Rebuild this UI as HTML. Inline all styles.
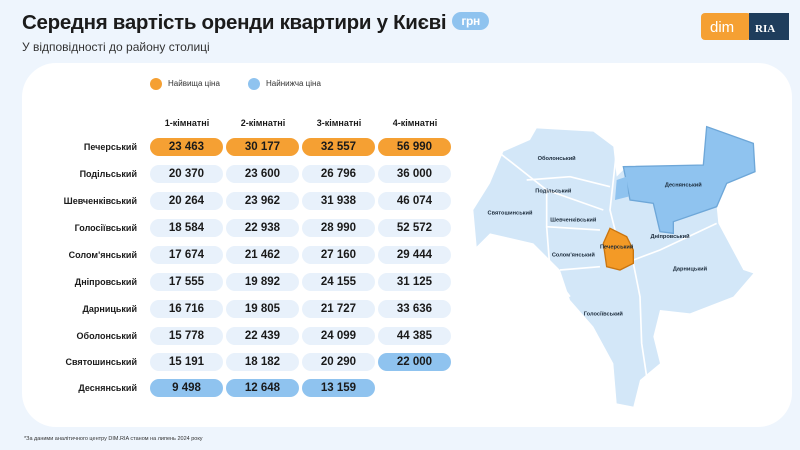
<!DOCTYPE html>
<html><head><meta charset="utf-8"><style>
*{margin:0;padding:0;box-sizing:border-box}
body{width:800px;height:450px;background:#eef5fd;font-family:"Liberation Sans","DejaVu Sans",sans-serif;position:relative;overflow:hidden;color:#1a1a1a}
.t{position:absolute;left:22px;top:11px;font-size:20.5px;font-weight:bold;color:#1b1b1b;letter-spacing:-0.3px}
.grn{display:inline-block;background:#8fc3ef;color:#fff;font-size:12px;border-radius:10px;padding:2px 9px;vertical-align:4px;margin-left:6px;font-weight:bold}
.sub{position:absolute;left:22px;top:40px;font-size:12px;color:#333}
.logo{position:absolute;left:701px;top:13px;width:88px;height:27px}
.card{position:absolute;left:22px;top:63px;width:770px;height:364px;background:#fff;border-radius:34px}
.leg{position:absolute;top:79px;font-size:8px;color:#333}
.dot{position:absolute;width:12px;height:12px;border-radius:50%;top:78px}
.hdr{position:absolute;top:118px;font-size:9px;font-weight:bold;width:74px;text-align:center}
.lab{position:absolute;left:20px;width:117px;text-align:right;font-size:9px;font-weight:bold}
.p{position:absolute;width:73px;height:18px;border-radius:9px;background:#e8f1fb;font-size:11.5px;font-weight:bold;text-align:center;line-height:18px}
.o{background:#f5a033}.b{background:#8fc3ef}
.fn{position:absolute;left:24px;top:436px;font-size:5.5px;color:#333}
</style></head><body>
<div class="t">Середня вартість оренди квартири у Києві<span class="grn">грн</span></div>
<div class="sub">У відповідності до району столиці</div>
<svg class="logo" viewBox="0 0 88 27"><rect x="0" y="0" width="50" height="27" rx="4" fill="#f5a033"/><rect x="48" y="0" width="40" height="27" fill="#1f3d5c"/><text x="9" y="19" font-size="15" fill="#fff" font-family="Liberation Sans">dim</text><text x="54" y="19" font-size="11" fill="#fff" font-weight="bold" font-family="Liberation Serif">RIA</text></svg>
<div class="card"></div>
<div class="dot" style="left:150px;background:#f5a033"></div><div class="leg" style="left:168px">Найвища ціна</div>
<div class="dot" style="left:248px;background:#8fc3ef"></div><div class="leg" style="left:266px">Найнижча ціна</div>
<div class="hdr" style="left:150px">1-кімнатні</div><div class="hdr" style="left:226px">2-кімнатні</div><div class="hdr" style="left:302px">3-кімнатні</div><div class="hdr" style="left:378px">4-кімнатні</div>
<div style="position:absolute;left:0;top:0">
<div class="lab" style="top:142px">Печерський</div><div class="p o" style="left:150px;top:138px">23 463</div><div class="p o" style="left:226px;top:138px">30 177</div><div class="p o" style="left:302px;top:138px">32 557</div><div class="p o" style="left:378px;top:138px">56 990</div>
<div class="lab" style="top:169px">Подільський</div><div class="p" style="left:150px;top:165px">20 370</div><div class="p" style="left:226px;top:165px">23 600</div><div class="p" style="left:302px;top:165px">26 796</div><div class="p" style="left:378px;top:165px">36 000</div>
<div class="lab" style="top:196px">Шевченківський</div><div class="p" style="left:150px;top:192px">20 264</div><div class="p" style="left:226px;top:192px">23 962</div><div class="p" style="left:302px;top:192px">31 938</div><div class="p" style="left:378px;top:192px">46 074</div>
<div class="lab" style="top:223px">Голосіївський</div><div class="p" style="left:150px;top:219px">18 584</div><div class="p" style="left:226px;top:219px">22 938</div><div class="p" style="left:302px;top:219px">28 990</div><div class="p" style="left:378px;top:219px">52 572</div>
<div class="lab" style="top:250px">Солом'янський</div><div class="p" style="left:150px;top:246px">17 674</div><div class="p" style="left:226px;top:246px">21 462</div><div class="p" style="left:302px;top:246px">27 160</div><div class="p" style="left:378px;top:246px">29 444</div>
<div class="lab" style="top:277px">Дніпровський</div><div class="p" style="left:150px;top:273px">17 555</div><div class="p" style="left:226px;top:273px">19 892</div><div class="p" style="left:302px;top:273px">24 155</div><div class="p" style="left:378px;top:273px">31 125</div>
<div class="lab" style="top:304px">Дарницький</div><div class="p" style="left:150px;top:300px">16 716</div><div class="p" style="left:226px;top:300px">19 805</div><div class="p" style="left:302px;top:300px">21 727</div><div class="p" style="left:378px;top:300px">33 636</div>
<div class="lab" style="top:331px">Оболонський</div><div class="p" style="left:150px;top:327px">15 778</div><div class="p" style="left:226px;top:327px">22 439</div><div class="p" style="left:302px;top:327px">24 099</div><div class="p" style="left:378px;top:327px">44 385</div>
<div class="lab" style="top:357px">Святошинський</div><div class="p" style="left:150px;top:353px">15 191</div><div class="p" style="left:226px;top:353px">18 182</div><div class="p" style="left:302px;top:353px">20 290</div><div class="p b" style="left:378px;top:353px">22 000</div>
<div class="lab" style="top:383px">Деснянський</div><div class="p b" style="left:150px;top:379px">9 498</div><div class="p b" style="left:226px;top:379px">12 648</div><div class="p b" style="left:302px;top:379px">13 159</div>
</div>
<svg style="position:absolute;left:460px;top:110px" width="340" height="310" viewBox="0 0 1020 930">
<path d="M130,125 L210,90 L230,55 L400,65 L460,110 L470,200 L500,170 L730,170 L740,50 L880,100 L885,185 L800,220 L770,290 L775,340 L850,480 L880,490 L820,560 L690,610 L600,600 L580,680 L600,760 L540,810 L520,890 L470,880 L460,760 L400,650 L330,570 L300,480 L220,400 L90,370 L50,410 L40,300 L90,220 Z" fill="#d3e7f8"/>
<g stroke="#fff" stroke-width="5" fill="none">
<path d="M470,120 L450,300 L470,380 L520,460 L540,560 L545,700 L560,800"/>
<path d="M120,130 L260,240 L430,300"/><path d="M200,210 L330,200 L450,230"/><path d="M260,240 L260,350 L420,360"/><path d="M260,350 L270,480 L330,560"/><path d="M520,450 L600,420 L770,340"/><path d="M300,480 L420,470"/>
</g>
<path d="M490,170 L730,165 L740,50 L880,100 L885,185 L800,220 L770,290 L640,335 L640,370 L600,365 L580,280 L510,270 Z" fill="#8fc3ef" stroke="#6ea7d8" stroke-width="4"/>
<path d="M470,210 L500,200 L505,260 L465,270 Z" fill="#8fc3ef"/>
<path d="M450,355 L500,380 L520,420 L520,460 L480,480 L440,470 L430,400 Z" fill="#f39a26" stroke="#c97510" stroke-width="4"/>
<g font-size="17" font-weight="bold" fill="#1a2a3a" font-family="Liberation Sans" text-anchor="middle">
<text x="290" y="150">Оболонський</text><text x="280" y="248">Подільський</text><text x="150" y="314">Святошинський</text><text x="340" y="334">Шевченківський</text><text x="470" y="416">Печерський</text><text x="340" y="440">Солом'янський</text><text x="630" y="384">Дніпровський</text><text x="690" y="482">Дарницький</text><text x="430" y="616">Голосіївський</text><text x="670" y="230">Деснянський</text>
</g></svg>
<div class="fn">*За даними аналітичного центру DIM.RIA станом на липень 2024 року</div>
</body></html>
